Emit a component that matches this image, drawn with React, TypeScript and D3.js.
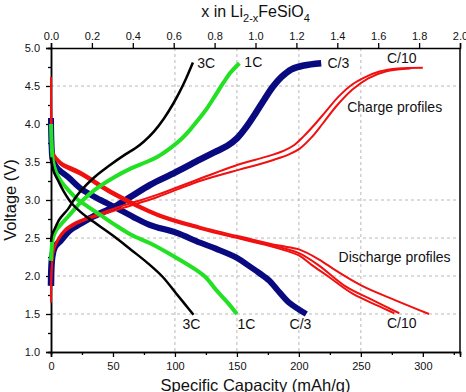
import React, { useRef, useEffect } from 'react';
import * as d3 from 'd3';

type Pt = [number, number];

// capacity (mAh/g), voltage (V)
const rate3CCharge: Pt[] = [[0, 2.45], [1, 2.55], [2.4, 2.6], [7, 2.75], [13.7, 2.88], [18, 2.99], [24, 3.12], [35, 3.3], [46, 3.44], [60, 3.6], [68, 3.68], [75, 3.77], [83, 3.9], [91, 4.07], [98, 4.25], [104, 4.43], [109, 4.6], [114.5, 4.81]];
const rate3CDischarge: Pt[] = [[0, 3.56], [1, 3.45], [2.5, 3.36], [5.6, 3.26], [10, 3.12], [16, 2.97], [24, 2.84], [32, 2.74], [51, 2.52], [65, 2.34], [78, 2.17], [90, 1.99], [101, 1.77], [108, 1.63], [115, 1.49]];

const rate1CCharge: Pt[] = [[0, 2.2], [0.5, 2.35], [1.6, 2.5], [4, 2.6], [8, 2.68], [13.7, 2.78], [24, 2.97], [35, 3.13], [51, 3.3], [65, 3.42], [77, 3.5], [86, 3.57], [96, 3.68], [105, 3.8], [112, 3.92], [119, 4.06], [126, 4.21], [132, 4.36], [139, 4.54], [145, 4.68], [152, 4.8]];
const rate1CDischarge: Pt[] = [[0, 4.0], [0.5, 3.75], [1.5, 3.52], [4, 3.37], [8, 3.25], [14, 3.13], [22, 3.0], [30, 2.91], [40, 2.8], [51, 2.68], [65, 2.54], [80, 2.43], [100, 2.25], [117, 2.08], [125, 1.98], [133, 1.82], [142, 1.66], [150, 1.5]];

const rateC3Charge: Pt[] = [[0, 1.87], [0.3, 2.1], [1, 2.25], [3, 2.38], [8, 2.47], [15, 2.6], [24, 2.69], [35, 2.79], [51, 2.91], [65, 3.05], [80, 3.2], [100, 3.36], [120, 3.53], [132, 3.63], [142, 3.71], [150, 3.81], [158, 3.97], [165, 4.14], [172, 4.32], [179, 4.49], [186, 4.62], [194, 4.72], [204, 4.77], [218, 4.8]];
const rateC3Discharge: Pt[] = [[0, 4.08], [0.5, 3.7], [1.5, 3.52], [5, 3.42], [14, 3.3], [24, 3.15], [40, 3.0], [51, 2.91], [66, 2.78], [80, 2.67], [101, 2.57], [120, 2.44], [133, 2.36], [150, 2.24], [160, 2.13], [168, 2.04], [176, 1.94], [182, 1.83], [192, 1.65], [200, 1.56], [206, 1.5]];

const rateC10ChargeA: Pt[] = [[0, 1.65], [0.3, 2.0], [1, 2.2], [3, 2.4], [11, 2.61], [20, 2.71], [32, 2.78], [59, 2.93], [86, 3.07], [120, 3.28], [152, 3.47], [165, 3.53], [176, 3.58], [188, 3.65], [196, 3.72], [204, 3.84], [212, 3.98], [222, 4.17], [232, 4.36], [243, 4.52], [254, 4.62], [265, 4.69], [280, 4.73], [300, 4.74]];
const rateC10ChargeB: Pt[] = [[0, 1.7], [0.3, 2.0], [1, 2.18], [3, 2.37], [11, 2.58], [20, 2.68], [32, 2.76], [59, 2.9], [86, 3.04], [120, 3.25], [152, 3.4], [166, 3.46], [180, 3.53], [192, 3.6], [201, 3.68], [210, 3.82], [219, 4.0], [230, 4.23], [243, 4.45], [256, 4.6], [270, 4.69], [290, 4.73]];

const rateC10DischargeA: Pt[] = [[0, 4.62], [0.3, 4.0], [1, 3.72], [2, 3.62], [8, 3.5], [24, 3.37], [51, 3.1], [86, 2.82], [120, 2.65], [160, 2.49], [184, 2.4], [200, 2.35], [216, 2.22], [230, 2.07], [251, 1.87], [278, 1.68], [305, 1.5]];
const rateC10DischargeB: Pt[] = [[0, 4.55], [0.3, 3.95], [1, 3.7], [2, 3.6], [8, 3.48], [24, 3.35], [51, 3.08], [86, 2.8], [120, 2.63], [160, 2.47], [184, 2.38], [200, 2.3], [216, 2.14], [238, 1.86], [260, 1.68], [281, 1.51]];
const rateC10DischargeC: Pt[] = [[0, 4.5], [0.3, 3.9], [1, 3.68], [2, 3.58], [8, 3.46], [24, 3.33], [51, 3.06], [86, 2.79], [120, 2.62], [160, 2.46], [184, 2.36], [200, 2.27], [210, 2.15], [224, 1.99], [243, 1.77], [265, 1.6], [277, 1.51]];

const xTicks = [0, 50, 100, 150, 200, 250, 300];
const xMinorTicks = [25, 75, 125, 175, 225, 275, 325];
const yTicks = [1.0, 1.5, 2.0, 2.5, 3.0, 3.5, 4.0, 4.5, 5.0];
const yMinorTicks = [1.25, 1.75, 2.25, 2.75, 3.25, 3.75, 4.25, 4.75];
const topTicks = [0, 0.2, 0.4, 0.6, 0.8, 1.0, 1.2, 1.4, 1.6, 1.8, 2.0];
const xGrid = [100, 150, 200, 250];
const yGrid = [1.5, 2.0, 2.5, 3.0, 4.5];

// curve labels: text, capacity, voltage
const curveLabels: [string, number, number][] = [
  ['3C', 118, 4.8], ['1C', 156, 4.82], ['C/3', 223, 4.8], ['C/10', 271, 4.87],
  ['3C', 106, 1.37], ['1C', 150.5, 1.37], ['C/3', 192.5, 1.37], ['C/10', 271, 1.38],
  ['Charge profiles', 239, 4.22], ['Discharge profiles', 232, 2.25],
];

const W = 466;
const H = 392;
const margin = { top: 48, right: 6, bottom: 40, left: 51 };

const App: React.FC = () => {
  const svgRef = useRef<SVGSVGElement>(null);

  useEffect(() => {
    if (!svgRef.current) return;
    document.body.style.margin = '0';
    const svg = d3.select(svgRef.current);
    svg.selectAll('*').remove();

    const innerW = W - margin.left - margin.right;
    const innerH = H - margin.top - margin.bottom;
    const font = 'Arial, "Liberation Sans", sans-serif';

    const x = d3.scaleLinear().domain([0, 330]).range([0, innerW]);
    const xTop = d3.scaleLinear().domain([0, 2]).range([0, innerW]);
    const y = d3.scaleLinear().domain([1, 5]).range([innerH, 0]);

    const g = svg.append('g').attr('transform', `translate(${margin.left},${margin.top})`);

    // grid
    g.selectAll('.vgrid').data(xGrid).enter().append('line')
      .attr('x1', (d) => x(d)).attr('x2', (d) => x(d))
      .attr('y1', 0).attr('y2', innerH)
      .attr('stroke', '#b8b8b8').attr('stroke-dasharray', '3,3');
    g.selectAll('.hgrid').data(yGrid).enter().append('line')
      .attr('x1', 0).attr('x2', innerW)
      .attr('y1', (d) => y(d)).attr('y2', (d) => y(d))
      .attr('stroke', '#b8b8b8').attr('stroke-dasharray', '3,3');

    const styleAxis = (sel: d3.Selection<SVGGElement, unknown, null, undefined>) => {
      sel.select('.domain').attr('stroke', '#000').attr('stroke-width', 1.5);
      sel.selectAll('line').attr('stroke', '#000').attr('stroke-width', 1.3);
      sel.selectAll('text').attr('fill', '#111').style('font-family', font).style('font-size', '11px');
    };

    // bottom axis
    const bx = g.append('g').attr('transform', `translate(0,${innerH})`)
      .call(d3.axisBottom(x).tickValues(xTicks).tickSize(5).tickPadding(5).tickFormat(d3.format('d')));
    styleAxis(bx);
    const bxm = g.append('g').attr('transform', `translate(0,${innerH})`)
      .call(d3.axisBottom(x).tickValues(xMinorTicks).tickSize(3).tickFormat(() => ''));
    styleAxis(bxm);

    // left axis
    const ly = g.append('g')
      .call(d3.axisLeft(y).tickValues(yTicks).tickSize(5).tickPadding(6).tickFormat(d3.format('.1f')));
    styleAxis(ly);
    const lym = g.append('g')
      .call(d3.axisLeft(y).tickValues(yMinorTicks).tickSize(3).tickFormat(() => ''));
    styleAxis(lym);

    // top axis
    const tx = g.append('g')
      .call(d3.axisTop(xTop).tickValues(topTicks).tickSize(5).tickPadding(3).tickFormat(d3.format('.1f')));
    styleAxis(tx);

    // right border
    g.append('line').attr('x1', innerW).attr('x2', innerW).attr('y1', 0).attr('y2', innerH)
      .attr('stroke', '#000').attr('stroke-width', 1.5);

    // curves
    const line = d3.line<Pt>()
      .x((d) => x(d[0]))
      .y((d) => y(d[1]))
      .curve(d3.curveCatmullRom.alpha(0.5));

    const series: { data: Pt[]; color: string; width: number }[] = [
      { data: rateC3Charge, color: '#0a0a80', width: 6.5 },
      { data: rateC3Discharge, color: '#0a0a80', width: 6 },
      { data: rateC10ChargeA, color: '#f01010', width: 2 },
      { data: rateC10ChargeB, color: '#f01010', width: 2 },
      { data: rateC10DischargeA, color: '#f01010', width: 2 },
      { data: rateC10DischargeB, color: '#f01010', width: 2 },
      { data: rateC10DischargeC, color: '#f01010', width: 2 },
      { data: rate1CCharge, color: '#22e022', width: 4 },
      { data: rate1CDischarge, color: '#22e022', width: 4 },
      { data: rate3CCharge, color: '#000000', width: 2.5 },
      { data: rate3CDischarge, color: '#000000', width: 2.5 },
    ];

    g.selectAll('.curve').data(series).enter().append('path')
      .attr('class', 'curve')
      .attr('d', (d) => line(d.data))
      .attr('fill', 'none')
      .attr('stroke', (d) => d.color)
      .attr('stroke-width', (d) => d.width)
      .attr('stroke-linejoin', 'round');

    // curve labels
    g.selectAll('.clabel').data(curveLabels).enter().append('text')
      .attr('x', (d) => x(d[1]))
      .attr('y', (d) => y(d[2]))
      .attr('dy', '0.35em')
      .style('font-family', font)
      .style('font-size', '14px')
      .attr('fill', '#111')
      .text((d) => d[0]);

    // axis titles
    svg.append('text')
      .attr('x', margin.left + innerW / 2).attr('y', 391)
      .attr('text-anchor', 'middle')
      .style('font-family', font).style('font-size', '16.5px').attr('fill', '#111')
      .text('Specific Capacity (mAh/g)');

    svg.append('text')
      .attr('transform', `translate(16,${margin.top + innerH / 2}) rotate(-90)`)
      .attr('text-anchor', 'middle')
      .style('font-family', font).style('font-size', '16.5px').attr('fill', '#111')
      .text('Voltage (V)');

    const top = svg.append('text')
      .attr('x', margin.left + innerW / 2).attr('y', 17)
      .attr('text-anchor', 'middle')
      .style('font-family', font).style('font-size', '16px').attr('fill', '#111');
    top.append('tspan').text('x in Li');
    top.append('tspan').attr('dy', 5).style('font-size', '11px').text('2-x');
    top.append('tspan').attr('dy', -5).text('FeSiO');
    top.append('tspan').attr('dy', 5).style('font-size', '11px').text('4');
  }, []);

  return (
    <svg
      ref={svgRef}
      width={W}
      height={H}
      style={{ position: 'absolute', left: 0, top: 0, background: '#fff' }}
    />
  );
};

export default App;
